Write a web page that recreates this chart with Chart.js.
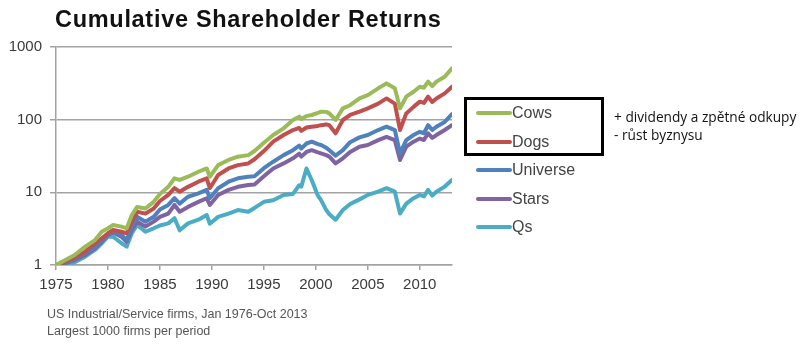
<!DOCTYPE html>
<html>
<head>
<meta charset="utf-8">
<script src="https://cdn.jsdelivr.net/npm/chart.js@4/dist/chart.umd.min.js"></script>
<style>
  html, body { margin: 0; padding: 0; background: #fff; }
  body { width: 803px; height: 344px; position: relative; overflow: hidden; font-family: "Liberation Sans", Arial, sans-serif; }
  #wrap { position: absolute; left: 0; top: 0; width: 803px; height: 344px; }
  #title { position: absolute; left: 55px; top: 8px; font-size: 23.5px; line-height: 23.5px; font-weight: bold; color: #111; white-space: nowrap; letter-spacing: 0.7px; }
  .leg { position: absolute; left: 476px; height: 20px; font-size: 16px; line-height: 20px; color: #444; white-space: nowrap; }
  .leg .sw { position: absolute; left: 0; top: 8px; width: 36px; height: 4px; border-radius: 2px; }
  .leg .tx { position: absolute; left: 36px; top: 0; }
  #box { position: absolute; left: 464px; top: 97px; width: 134px; height: 53px; border: 3px solid #000; }
  .note { position: absolute; left: 614px; font-family: "Open Sans", "Noto Sans", sans-serif; font-size: 13.7px; line-height: 18px; color: #111; white-space: nowrap; }
  .foot { position: absolute; left: 47px; font-size: 12.5px; line-height: 16px; color: #555; white-space: nowrap; letter-spacing: 0px; }
</style>
</head>
<body>
<div id="wrap"><canvas id="c" width="803" height="344"></canvas></div>
<div id="title">Cumulative Shareholder Returns</div>
<div id="box"></div>
<div id="legend"></div>
<div class="note" style="top:108px">+ dividendy a zpětné odkupy</div>
<div class="note" style="top:126px">- růst byznysu</div>
<div class="foot" style="top:306px">US Industrial/Service firms, Jan 1976-Oct 2013</div>
<div class="foot" style="top:323px">Largest 1000 firms per period</div>
<script>
// ---- data ----
const years = [1975.0, 1975.9, 1976.8, 1977.8, 1978.75, 1979.4, 1980.0, 1980.5, 1981.3, 1981.8, 1982.3, 1982.8, 1983.6, 1984.4, 1985.0, 1985.8, 1986.4, 1986.9, 1987.7, 1988.7, 1989.5, 1989.8, 1990.6, 1991.6, 1992.5, 1993.5, 1994.1, 1995.0, 1995.9, 1996.9, 1997.8, 1998.4, 1998.6, 1999.1, 1999.6, 2000.2, 2000.5, 2001.0, 2001.3, 2001.9, 2002.6, 2003.3, 2004.2, 2005.0, 2006.0, 2006.8, 2007.6, 2008.1, 2008.7, 2009.4, 2010.0, 2010.4, 2010.8, 2011.2, 2011.6, 2012.4, 2013.1];
const cows = [1, 1.17, 1.37, 1.79, 2.2, 2.87, 3.2, 3.55, 3.37, 3.2, 4.87, 6.3, 6.0, 7.4, 9.5, 11.9, 15.6, 14.8, 16.4, 19.2, 21.3, 16.4, 23.7, 27.9, 30.9, 32.5, 37, 48, 61.5, 76, 99, 110, 102, 112, 116, 124, 129, 128, 122, 99, 143, 158, 196, 218, 270, 316, 270, 143, 207, 242, 284, 275, 334, 290, 334, 390, 508];
const dogs = [1, 1.1, 1.26, 1.52, 1.99, 2.33, 2.73, 3.03, 2.87, 2.73, 3.95, 5.4, 5.1, 6.0, 7.6, 9.2, 11.4, 10.2, 11.9, 14, 15.6, 11.4, 17.3, 21.3, 23.7, 25, 28.5, 37, 49.8, 61.5, 72, 77, 70, 78, 80, 82, 84, 86, 84, 65, 99, 116, 129, 143, 166, 196, 166, 72, 122, 150, 177, 170, 207, 175, 196, 230, 284];
const universe = [1, 1.08, 1.2, 1.45, 1.79, 2.2, 2.64, 2.87, 2.59, 2.2, 3.37, 4.6, 3.95, 4.6, 5.8, 6.7, 8.3, 7.0, 8.7, 9.7, 10.8, 8.3, 11.4, 14, 15.6, 16.4, 16.6, 21.5, 26.4, 32.5, 38, 44, 40, 47, 49.8, 46, 44.8, 41, 38, 32, 38, 49, 57, 61.5, 72, 80, 72, 34.4, 52.3, 61.5, 68, 65, 84, 72, 80, 93, 119];
const stars = [1, 1.06, 1.17, 1.37, 1.7, 2.09, 2.59, 2.8, 2.45, 2.09, 3.03, 3.95, 3.37, 3.95, 4.6, 5.1, 6.7, 5.4, 6.3, 7.4, 8.3, 6.7, 9.2, 10.8, 11.9, 12.6, 12.8, 16.6, 21.3, 25, 29.4, 34, 31, 36, 38, 35.5, 34.4, 32.5, 31, 25, 29.4, 36, 42.5, 44.8, 52.3, 58, 52.3, 27.9, 42.5, 49.8, 55, 52.5, 65, 56, 61.5, 72, 84];
const qs = [1, 1.03, 1.09, 1.3, 1.61, 1.99, 2.45, 2.45, 1.99, 1.79, 2.73, 3.55, 2.87, 3.2, 3.5, 3.74, 4.4, 3.0, 3.74, 4.2, 4.87, 3.7, 4.6, 5.1, 5.7, 5.4, 6.1, 7.4, 7.8, 9.2, 9.5, 12.5, 12.0, 21.3, 14.8, 9.0, 7.8, 5.7, 5.0, 4.2, 5.7, 6.9, 8.0, 9.2, 10.2, 11.4, 10.2, 5.1, 7.0, 8.3, 9.2, 8.8, 10.8, 9.0, 10.2, 12, 14.8];
const seriesNames = ["Cows", "Dogs", "Universe", "Stars", "Qs"];
const xTickYears = [1975, 1980, 1985, 1990, 1995, 2000, 2005, 2010];
const yTickValues = [1, 10, 100, 1000];

// ---- styles ----
const seriesValues = [cows, dogs, universe, stars, qs];
const colors = ["#9bbb59", "#c0504d", "#4f81bd", "#8064a2", "#4bacc6"];

// legend (HTML)
const legEl = document.getElementById('legend');
seriesNames.forEach((n, i) => {
  const d = document.createElement('div');
  d.className = 'leg';
  d.style.top = (103 + i * 28.5) + 'px';
  d.innerHTML = '<div class="sw" style="background:' + colors[i] + '"></div><div class="tx">' + n + '</div>';
  legEl.appendChild(d);
});

Chart.defaults.font.family = '"Liberation Sans", Arial, sans-serif';
const gridColor = '#a3a3a3';

new Chart(document.getElementById('c'), {
  type: 'line',
  data: {
    datasets: seriesNames.map((n, i) => ({
      label: n,
      data: years.map((yr, k) => ({ x: yr, y: seriesValues[i][k] })),
      borderColor: colors[i],
      backgroundColor: colors[i],
      borderWidth: 4,
      pointRadius: 0,
      tension: 0,
      borderJoinStyle: 'round',
      borderCapStyle: 'round',
      order: i + 1
    }))
  },
  options: {
    responsive: false,
    animation: false,
    events: [],
    layout: { padding: { left: 0, top: 47, right: 351, bottom: 49 } },
    plugins: { legend: { display: false }, title: { display: false }, tooltip: { enabled: false } },
    scales: {
      x: {
        type: 'linear',
        min: 1975,
        max: 2013.1,
        afterBuildTicks: (s) => { s.ticks = xTickYears.map(v => ({ value: v })); },
        afterFit: (s) => { s.height = 30; },
        ticks: { callback: (v) => String(v), color: '#3a3a3a', font: { size: 15 }, padding: 6, maxRotation: 0, autoSkip: false },
        grid: { drawOnChartArea: false, drawTicks: true, tickLength: 5, color: gridColor, lineWidth: 1.5 },
        border: { display: true, color: gridColor, width: 1.5 }
      },
      y: {
        type: 'logarithmic',
        min: 1,
        max: 1000,
        afterBuildTicks: (s) => { s.ticks = yTickValues.map(v => ({ value: v })); },
        afterFit: (s) => { s.width = 56; },
        ticks: { callback: (v) => String(v), color: '#3a3a3a', font: { size: 15 }, padding: 8, autoSkip: false },
        grid: { drawTicks: true, tickLength: 6, color: gridColor, lineWidth: 1.5 },
        border: { display: true, color: gridColor, width: 1.5 }
      }
    }
  }
});
</script>
</body>
</html>
